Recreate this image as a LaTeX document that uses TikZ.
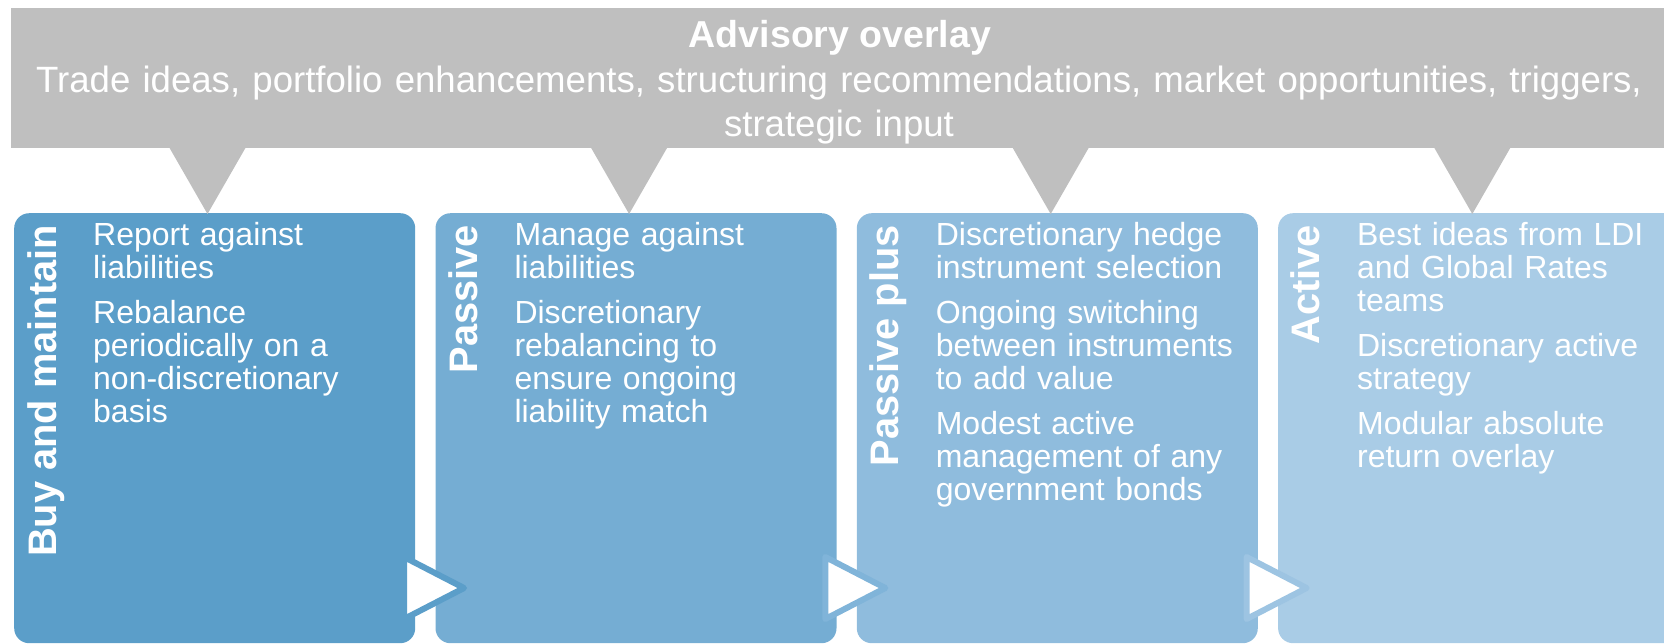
\documentclass[tikz,border=0pt]{standalone}
\usepackage{fontspec}
\setmainfont{Liberation Sans}
\definecolor{bannergray}{HTML}{BFBFBF}
\definecolor{boxA}{HTML}{5B9EC9}
\definecolor{boxB}{HTML}{75ADD3}
\definecolor{boxC}{HTML}{8FBCDD}
\definecolor{boxD}{HTML}{A9CCE6}
\definecolor{arrA}{HTML}{5B9EC9}
\definecolor{arrB}{HTML}{80B4D9}
\definecolor{arrC}{HTML}{9DC4E2}
\begin{document}
\begin{tikzpicture}[x=1pt,y=-1pt,
  stagebox/.style={draw=none, rounded corners=15pt, minimum width=401pt, minimum height=430pt, anchor=north west, inner sep=0pt},
  stagetitle/.style={rotate=90, anchor=base east, text=white, font=\fontsize{39.8}{39.8}\selectfont\bfseries, inner sep=0pt},
  stagetext/.style={anchor=base west, text=white, font=\fontsize{32}{33}\selectfont, text width=400pt, align=left, inner sep=0pt},
  playarrow/.style={fill=white, line width=6pt, line join=round},
  bannertext/.style={anchor=base, text=white, inner sep=0pt}]
\useasboundingbox (0,0) rectangle (1664,643);
% stage boxes
\node[stagebox, fill=boxA] (b1) at (14,213) {};
\node[stagebox, fill=boxB] (b2) at (435.3,213) {};
\node[stagebox, fill=boxC] (b3) at (856.6,213) {};
\node[stagebox, fill=boxD] (b4) at (1277.9,213) {};
% play arrows between boxes
\filldraw[playarrow, draw=arrA] (404,557) -- (464,588) -- (404,619) -- cycle;
\filldraw[playarrow, draw=arrB] (825.3,557) -- (885.3,588) -- (825.3,619) -- cycle;
\filldraw[playarrow, draw=arrC] (1246.6,557) -- (1306.6,588) -- (1246.6,619) -- cycle;
% banner
\node[fill=bannergray, minimum width=1669pt, minimum height=140pt, anchor=north west, inner sep=0pt] (banner) at (11,8) {};
\foreach \i in {0,...,3}
  \fill[bannergray] ({169+421.6*\i},147) -- ({246+421.6*\i},147) -- ({207.5+421.6*\i},214) -- cycle;
\node[bannertext, font=\fontsize{37.5}{44.5}\selectfont\bfseries] (bt) at (840,47) {Advisory overlay};
\node[bannertext, font=\fontsize{36.6}{44.5}\selectfont, text width=1700pt, align=center] (bs) at (839,92) {Trade ideas, portfolio enhancements, structuring recommendations, market opportunities, triggers,\\strategic input};
% titles
\node[stagetitle] (h1) at (56,225) {Buy and maintain};
\node[stagetitle] (h2) at (477.3,225) {Passive};
\node[stagetitle] (h3) at (898.6,225) {Passive plus};
\node[stagetitle] (h4) at (1319.9,225) {Active};
% texts
\node[stagetext] (t1) at (93,245) {Report against\\liabilities\\[12pt]Rebalance\\periodically on a\\non-discretionary\\basis};
\node[stagetext] (t2) at (514.3,245) {Manage against\\liabilities\\[12pt]Discretionary\\rebalancing to\\ensure ongoing\\liability match};
\node[stagetext] (t3) at (935.6,245) {Discretionary hedge\\instrument selection\\[12pt]Ongoing switching\\between instruments\\to add value\\[12pt]Modest active\\management of any\\government bonds};
\node[stagetext] (t4) at (1356.9,245) {Best ideas from LDI\\and Global Rates\\teams\\[12pt]Discretionary active\\strategy\\[12pt]Modular absolute\\return overlay};
\end{tikzpicture}
\end{document}
